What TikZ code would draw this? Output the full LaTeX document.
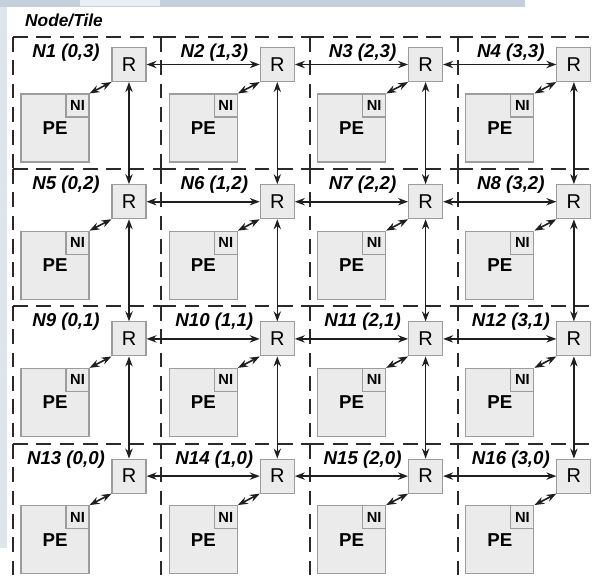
\documentclass[tikz,border=0pt]{standalone}
\usepackage{fontspec}
\setmainfont{Liberation Sans}
\usetikzlibrary{arrows.meta,positioning,calc}

\definecolor{boxgray}{HTML}{EBEBEB}
\definecolor{edgegray}{HTML}{9C9C9C}
\definecolor{dashgray}{HTML}{2A2A2A}
\definecolor{shotblue}{HTML}{C3D0DC}

\tikzset{
  router/.style={draw=edgegray,fill=boxgray,line width=0.8pt,minimum size=25.5pt,inner sep=0pt,font=\fontsize{15}{15}\selectfont},
  pebox/.style={draw=edgegray,fill=boxgray,line width=0.8pt,minimum size=51pt,inner sep=0pt,font=\fontsize{14}{14}\selectfont\bfseries},
  nibox/.style={draw=edgegray,fill=boxgray,line width=0.8pt,minimum size=17.25pt,inner sep=0pt,font=\fontsize{11}{11}\selectfont\bfseries},
  tilelabel/.style={font=\fontsize{14}{14}\selectfont\bfseries\itshape},
  tileline/.style={draw=dashgray,line width=1.6pt,dash pattern=on 11pt off 6.5pt},
  link/.style={{Stealth[length=7.5pt,width=5.5pt]}-{Stealth[length=7.5pt,width=5.5pt]},line width=1.2pt,draw=black!88},
}

\begin{document}
\begin{tikzpicture}[x=0.75pt,y=-0.75pt]
  \useasboundingbox (0,0) rectangle (593,583);
  \clip (0,0) rectangle (593,583);

  % screenshot edge
  \fill[shotblue] (0,0) rectangle (525,7);
  \fill[shotblue!35] (80,0) rectangle (160,6);
  \fill[shotblue!55] (0,7) rectangle (7,548);

  \node[tilelabel,font=\fontsize{13}{13}\selectfont\bfseries\itshape] (title) at (64,20) {Node/Tile};

  % tiles: top and left edge of each
  \foreach \row/\ty/\by in {0/37/169, 1/169/306, 2/306/444, 3/444/590} {
    \foreach \col in {0,...,3} {
      \pgfmathtruncatemacro{\n}{4*\row+\col+1}
      \pgfmathtruncatemacro{\yy}{3-\row}
      \pgfmathsetmacro{\tx}{13+148.3*\col}
      \pgfmathsetmacro{\ry}{64.5+137.2*\row}
      \draw[tileline] (\tx,\ty) -- ++(148.3,0);
      \draw[tileline] (\tx,\ty) -- (\tx,\by);
      \node[tilelabel] (lab\n) at (\tx+53,\ty+16) {N\n\ (\col,\yy)};
      \node[router] (r\col\row) at (\tx+116,\ry) {R};
      \node[pebox] (pe\col\row) at (\tx+42,\ry+63.5) {PE};
      \node[nibox,anchor=north east] (ni\col\row) at (pe\col\row.north east) {NI};
      \draw[link] (ni\col\row.north east) -- (r\col\row.south west);
    }
  }

  % mesh links
  \foreach \row in {0,...,3}
    \foreach \col/\nxt in {0/1,1/2,2/3}
      \draw[link] (r\col\row.east) -- (r\nxt\row.west);
  \foreach \col in {0,...,3}
    \foreach \row/\nxt in {0/1,1/2,2/3}
      \draw[link] (r\col\row.south) -- (r\col\nxt.north);
\end{tikzpicture}
\end{document}
